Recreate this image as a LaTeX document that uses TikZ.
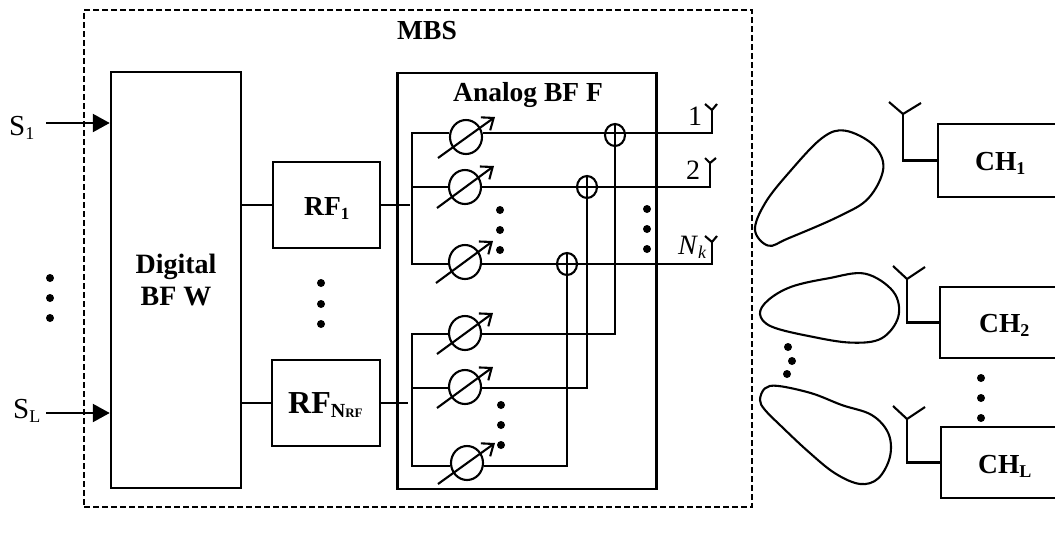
\documentclass[tikz,border=0pt]{standalone}
\usepackage{fontspec}
\setmainfont{Liberation Serif}
\usetikzlibrary{arrows.meta,shapes.geometric,backgrounds,calc}
\newcommand{\lowtxt}[2]{\raisebox{-4pt}{\fontsize{#1}{#1}\selectfont #2}}
\tikzset{
  wire/.style={line width=2.1pt},
  blockbox/.style={draw,line width=2.5pt,rectangle,inner sep=0pt,font=\fontsize{28}{32}\selectfont\bfseries,align=center},
  shifter/.style={draw,ellipse,line width=2.1pt,minimum width=32pt,minimum height=34pt,inner sep=0pt},
  combiner/.style={draw,ellipse,line width=2.1pt,minimum width=20pt,minimum height=22pt,inner sep=0pt},
  sweep/.style={line width=2.1pt,-{Straight Barb[length=10pt,width=16pt,line width=2.1pt]}},
  feed/.style={line width=2.4pt,-{Triangle[length=17pt,width=18pt]}},
  blob/.style={circle,fill=black,draw=none,minimum size=8pt,inner sep=0pt},
  lobe/.style={line width=2.1pt},
  plain/.style={inner sep=0pt,anchor=base west,font=\fontsize{29}{30}\selectfont},
  boldlabel/.style={inner sep=0pt,anchor=base west,font=\fontsize{27.5}{30}\selectfont\bfseries},
}
\begin{document}
\begin{tikzpicture}[x=1pt,y=-1pt]
\useasboundingbox (0,0) rectangle (1055,536);
% outer frame
\node[draw,line width=2.5pt,dash pattern=on 6pt off 3pt,minimum width=668pt,minimum height=497pt,inner sep=0pt] (mbsframe) at (418,258.5) {};
\node[boldlabel] (mbs) at (397,39) {MBS};
% blocks
\node[blockbox,minimum width=130pt,minimum height=416pt] (dig) at (176,280) {Digital\\BF W};
\node[blockbox,minimum width=107pt,minimum height=86pt] (rf1) at (326.5,205) {};
\node[blockbox,minimum width=108pt,minimum height=86pt] (rfn) at (326,403) {};
\node[boldlabel] (rf1t) at (304,215) {RF\lowtxt{17}{1}};
\node[boldlabel,font=\fontsize{32}{34}\selectfont\bfseries] (rfnt) at (288,413) {RF\lowtxt{20}{N}\lowtxt{13}{RF}};
\node[blockbox,minimum width=259pt,minimum height=416pt] (ana) at (527,281) {};
\node[boldlabel] (analab) at (453,101) {Analog BF F};
% inputs
\node[plain] (s1) at (9,135) {S\lowtxt{18}{1}};
\node[plain] (sl) at (13,418) {S\lowtxt{18}{L}};
\coordinate (s1in) at (46,123);
\coordinate (slin) at (46,413);
\draw[feed] (s1in) -- (s1in -| dig.west);
\draw[feed] (slin) -- (slin -| dig.west);
% phase shifters
\node[shifter] (p1) at (466,137) {};
\node[shifter] (p2) at (465,187) {};
\node[shifter] (p3) at (465,262) {};
\node[shifter] (p4) at (465,333) {};
\node[shifter] (p5) at (465,387) {};
\node[shifter] (p6) at (467,463) {};
\foreach \n/\ax/\ay/\bx/\by in {1/438/158/495/117,2/437/208/494/166,3/436/283/493/241,4/437/354/493/313,5/437/408/493/367,6/438/484/495/443}{
  \coordinate (swa\n) at (\ax,\ay);
  \coordinate (swb\n) at (\bx,\by);
  \draw[sweep] (swa\n) -- (swb\n);
}
% combiners
\node[combiner] (c1) at (615,135) {};
\node[combiner] (c2) at (587,187) {};
\node[combiner] (c3) at (567,264) {};
% wire junctions
\coordinate (ta) at (412,133);
\coordinate (tb) at (412,187);
\coordinate (tc) at (412,264);
\coordinate (ba) at (412,334);
\coordinate (bb) at (412,388);
\coordinate (bc) at (412,466);
\coordinate (e1) at (712,133);
\coordinate (e2) at (710,187);
\coordinate (e3) at (712,264);
\coordinate (h1) at (712,110);
\coordinate (h2) at (710,163);
\coordinate (h3) at (712,242);
\coordinate (rf1stub) at (410,205);
\coordinate (rfnstub) at (408,403);
\begin{scope}[on background layer]
  \draw[wire,line cap=rect] (ta) -- (tc);
  \draw[wire,line cap=rect] (ba) -- (bc);
  \draw[wire] (ta) -- (ta -| p1.west);
  \draw[wire] (tb) -- (tb -| p2.west);
  \draw[wire] (tc) -- (tc -| p3.west);
  \draw[wire] (ba) -- (ba -| p4.west);
  \draw[wire] (bb) -- (bb -| p5.west);
  \draw[wire] (bc) -- (bc -| p6.west);
  \draw[wire] (ta -| p1.east) -- (e1) -- (h1);
  \draw[wire] (tb -| p2.east) -- (e2) -- (h2);
  \draw[wire] (tc -| p3.east) -- (e3) -- (h3);
  \draw[wire] (c1.north) -- (ba -| c1.north) -- (ba -| p4.east);
  \draw[wire] (c2.north) -- (bb -| c2.north) -- (bb -| p5.east);
  \draw[wire] (c3.north) -- (bc -| c3.north) -- (bc -| p6.east);
  \draw[wire] (dig.east |- rf1) -- (rf1.west);
  \draw[wire] (dig.east |- rfn) -- (rfn.west);
  \draw[wire] (rf1.east) -- (rf1stub);
  \draw[wire] (rfn.east) -- (rfnstub);
\end{scope}
% antennas at array
\coordinate (a1l) at (705,104); \coordinate (a1r) at (717,104);
\coordinate (a2l) at (705,158); \coordinate (a2r) at (716,158);
\coordinate (a3l) at (705,236); \coordinate (a3r) at (717,236);
\draw[wire] (a1l) -- (h1) -- (a1r);
\draw[wire] (a2l) -- (h2) -- (a2r);
\draw[wire] (a3l) -- (h3) -- (a3r);
\node[plain,font=\fontsize{28}{30}\selectfont] (n1) at (688,125) {1};
\node[plain,font=\fontsize{28}{30}\selectfont] (n2) at (686,179) {2};
\node[plain,font=\fontsize{28}{30}\selectfont] (n3) at (678,254) {\textit{N}\lowtxt{18}{\textit{k}}};
% dots
\foreach \n/\dx/\dy in {a/50/278,b/50/298,c/50/318,d/321/283,e/321/304,f/321/324,g/500/210,h/500/230,i/500/250,j/647/209,k/647/229,l/647/249,m/501/405,n/501/425,o/501/445,p/788/347,q/792/361,r/787/374,s/981/378,t/981/398,u/981/418}{
  \node[blob] (dot\n) at (\dx,\dy) {};
}
% channel blocks
\node[blockbox,minimum width=119pt,minimum height=73pt] (ch1) at (997.5,160.5) {};
\node[blockbox,minimum width=117pt,minimum height=71pt] (ch2) at (998.5,322.5) {};
\node[blockbox,minimum width=116pt,minimum height=71pt] (chl) at (999,462.5) {};
\node[boldlabel] (ch1t) at (975,170) {CH\lowtxt{18}{1}};
\node[boldlabel] (ch2t) at (979,332) {CH\lowtxt{18}{2}};
\node[boldlabel] (chlt) at (978,473) {CH\lowtxt{18}{L}};
\coordinate (u1) at (903,114); \coordinate (u2) at (907,279); \coordinate (u3) at (907,419);
\draw[wire] (ch1.west) -- (ch1.west -| u1) -- (u1);
\draw[wire] (ch2.west) -- (ch2.west -| u2) -- (u2);
\draw[wire] (chl.west) -- (chl.west -| u3) -- (u3);
\coordinate (u1l) at (889,102); \coordinate (u1r) at (921,103);
\coordinate (u2l) at (893,266); \coordinate (u2r) at (925,267);
\coordinate (u3l) at (893,406); \coordinate (u3r) at (925,407);
\draw[wire] (u1l) -- (u1) -- (u1r);
\draw[wire] (u2l) -- (u2) -- (u2r);
\draw[wire] (u3l) -- (u3) -- (u3r);
% lobes
\begin{scope}[shift={(745,90)},x=0.3333pt,y=-0.3333pt]
\draw[lobe] plot[smooth cycle,tension=0.6] coordinates {(30,420)(70,467)(130,445)(280,380)(370,325)(415,235)(385,165)(300,122)(230,145)(130,250)(60,340)};
\draw[lobe] plot[smooth cycle,tension=0.6] coordinates {(45,672)(80,710)(200,740)(320,758)(410,745)(460,680)(445,605)(360,551)(250,565)(140,590)(70,630)};
\draw[lobe] plot[smooth cycle,tension=0.6] coordinates {(45,930)(60,895)(100,888)(200,910)(290,945)(380,975)(430,1030)(435,1100)(400,1165)(345,1182)(270,1150)(190,1085)(110,1010)(60,960)};
\end{scope}
\end{tikzpicture}
\end{document}
